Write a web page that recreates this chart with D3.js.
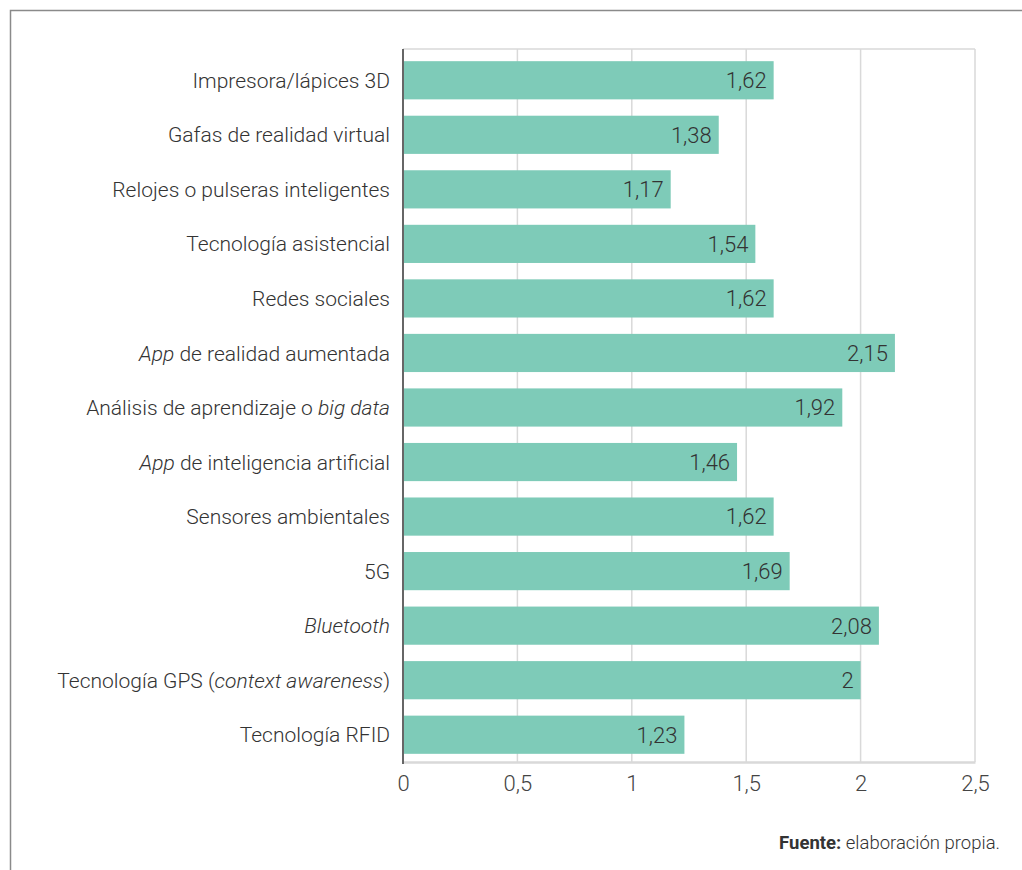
<!DOCTYPE html>
<html><head><meta charset="utf-8">
<script src="https://cdn.jsdelivr.net/npm/d3@7"></script>
<style>
html,body{margin:0;padding:0;background:#fff;}
svg text{font-family:"Roboto","Liberation Sans",sans-serif;}
</style></head>
<body><svg id="c" width="1022" height="870"></svg>
<script>
// Category labels; *...* marks italic runs
const categories = [
  "Impresora/lápices 3D",
  "Gafas de realidad virtual",
  "Relojes o pulseras inteligentes",
  "Tecnología asistencial",
  "Redes sociales",
  "*App* de realidad aumentada",
  "Análisis de aprendizaje o *big data*",
  "*App* de inteligencia artificial",
  "Sensores ambientales",
  "5G",
  "*Bluetooth*",
  "Tecnología GPS (*context awareness*)",
  "Tecnología RFID"
];
const values = [1.62, 1.38, 1.17, 1.54, 1.62, 2.15, 1.92, 1.46, 1.62, 1.69, 2.08, 2, 1.23];
const tickValues = [0, 0.5, 1, 1.5, 2, 2.5];
const tickLabels = ["0", "0,5", "1", "1,5", "2", "2,5"];

const svg = d3.select("#c");
const fmt = v => String(v).replace(".", ",");

// frame
svg.append("path").attr("d","M10.5,870 L10.5,10.5 L1022,10.5").attr("fill","none").attr("stroke","#8a8a8a").attr("stroke-width",1.5);

const x = d3.scaleLinear().domain([0, 2.5]).range([403, 975]);
const y = d3.scaleBand().domain(categories.map((d,i)=>i)).range([53, 762]).paddingInner(0.3).paddingOuter(0.15);

// top border of plot
svg.append("line").attr("x1",x(0)).attr("x2",x(2.5)).attr("y1",49).attr("y2",49).attr("stroke","#d9d9d9").attr("stroke-width",1.5);

// gridlines
svg.append("g").selectAll("line").data(tickValues.slice(1)).join("line")
  .attr("x1",d=>x(d)).attr("x2",d=>x(d)).attr("y1",49).attr("y2",762)
  .attr("stroke","#d9d9d9").attr("stroke-width",1.5);

// bars
svg.append("g").selectAll("rect").data(values).join("rect")
  .attr("x",x(0)).attr("y",(d,i)=>y(i)).attr("width",d=>x(d)-x(0)).attr("height",y.bandwidth())
  .attr("fill","#7ecbb8");

// value labels
svg.append("g").selectAll("text").data(values).join("text")
  .attr("x",d=>x(d)-7).attr("y",(d,i)=>y(i)+y.bandwidth()/2).attr("dy","0.36em")
  .attr("text-anchor","end").attr("font-size",22).attr("font-weight",300).attr("fill","#333")
  .text(d=>fmt(d));

// bottom axis
const xAxis = d3.axisBottom(x).tickValues(tickValues).tickFormat((d,i)=>tickLabels[i]).tickSize(0).tickPadding(13);
const gx = svg.append("g").attr("transform","translate(0,762)").call(xAxis);
gx.select(".domain").attr("stroke","#d9d9d9").attr("stroke-width",2.5);
gx.selectAll("text").attr("font-size",22).attr("font-weight",300).attr("fill","#444").attr("font-family",'"Roboto","Liberation Sans",sans-serif');

// left axis line
svg.append("line").attr("x1",x(0)).attr("x2",x(0)).attr("y1",49).attr("y2",764).attr("stroke","#666").attr("stroke-width",2);

// category labels
const lab = svg.append("g").selectAll("text").data(categories).join("text")
  .attr("x",390).attr("y",(d,i)=>y(i)+y.bandwidth()/2).attr("dy","0.36em")
  .attr("text-anchor","end").attr("font-size",21).attr("font-weight",300).attr("fill","#333");
lab.each(function(d){
  const t = d3.select(this);
  d.split("*").forEach((part,k)=>{
    if(!part) return;
    t.append("tspan").attr("font-style", k%2===1 ? "italic" : "normal").text(part);
  });
});

// source
const src = svg.append("text").attr("x",1000).attr("y",849).attr("text-anchor","end").attr("font-size",18.5).attr("fill","#333");
src.append("tspan").attr("font-weight",700).text("Fuente:");
src.append("tspan").attr("font-weight",300).text(" elaboración propia.");
</script></body></html>
